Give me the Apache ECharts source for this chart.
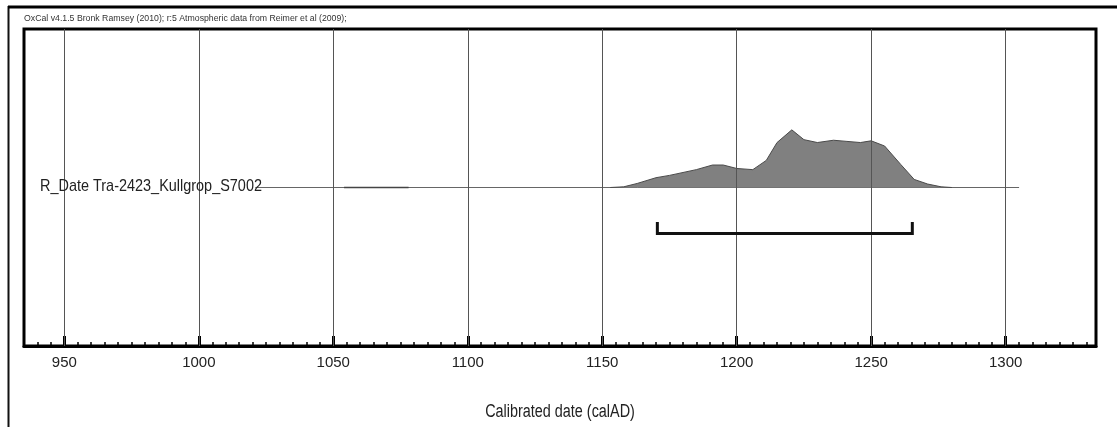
<!DOCTYPE html>
<html>
<head>
<meta charset="utf-8">
<script src="https://cdn.jsdelivr.net/npm/echarts@6/dist/echarts.min.js"></script>
<style>
  html, body { margin: 0; padding: 0; background: #fff; }
  #chart { width: 1117px; height: 427px; }
</style>
</head>
<body>
<div id="chart"></div>
<script>
// calibrated date (calAD) and relative probability (peak = 1)
const years = [1153, 1158, 1163, 1170, 1175, 1185, 1191, 1195, 1200, 1206, 1211, 1215, 1220.5,
  1225, 1230, 1236, 1241, 1246, 1250, 1255, 1261, 1266, 1271, 1276, 1280];
const density = [0, 0.012, 0.07, 0.17, 0.21, 0.31, 0.39, 0.39, 0.33, 0.31, 0.47, 0.78, 1,
  0.83, 0.78, 0.82, 0.8, 0.78, 0.81, 0.72, 0.4, 0.14, 0.06, 0.012, 0];
const baseRange = [1021, 1305];
const lowProbRange = [1054, 1078];
const range95 = [1170.5, 1265.3];
const majorTicks = [950, 1000, 1050, 1100, 1150, 1200, 1250, 1300];
const minorTicks = [];
for (let y = 940; y <= 1330; y += 5) {
  if (y % 50 !== 0) minorTicks.push(y);
}
const sampleName = "R_Date Tra-2423_Kullgrop_S7002";
const headerText = "OxCal v4.1.5 Bronk Ramsey (2010); r:5 Atmospheric data from Reimer et al (2009);";
const axisTitle = "Calibrated date (calAD)";

const font = "'Liberation Sans', Arial, sans-serif";

const chart = echarts.init(document.getElementById("chart"));
const option = {
  backgroundColor: "#fff",
  animation: false,
  grid: {
    left: 24,
    right: 21,
    top: 29,
    bottom: 81,
    show: true,
    borderColor: "#000",
    borderWidth: 3,
  },
  xAxis: [
    {
      type: "value",
      min: 935,
      max: 1333.6,
      axisLine: { show: true, onZero: false, lineStyle: { color: "#000", width: 3 } },
      axisTick: {
        show: true,
        inside: true,
        length: 10,
        customValues: majorTicks,
        lineStyle: { color: "#000", width: 3 },
      },
      axisLabel: {
        customValues: majorTicks,
        formatter: (v) => String(v),
        fontFamily: font,
        fontSize: 15,
        color: "#222",
        margin: 9,
      },
      splitLine: { show: false },
    },
    {
      type: "value",
      min: 935,
      max: 1333.6,
      position: "bottom",
      axisLine: { show: false, onZero: false },
      axisTick: {
        show: true,
        inside: true,
        length: 4,
        customValues: minorTicks,
        lineStyle: { color: "#000", width: 1.5 },
      },
      axisLabel: { show: false },
      splitLine: { show: false },
    },
  ],
  yAxis: {
    type: "value",
    min: -2.75,
    max: 2.75,
    show: false,
    splitLine: { show: false },
  },
  series: [
    {
      name: "baseline",
      type: "line",
      symbol: "none",
      data: [[baseRange[0], 0], [baseRange[1], 0]],
      lineStyle: { color: "#666", width: 1 },
      z: 2,
      markLine: {
        silent: true,
        symbol: "none",
        label: { show: false },
        lineStyle: { color: "#555", width: 1, type: "solid" },
        data: majorTicks.map((v) => ({ xAxis: v })),
      },
    },
    {
      name: "low",
      type: "line",
      symbol: "none",
      data: [[lowProbRange[0], 0], [lowProbRange[1], 0]],
      lineStyle: { color: "#444", width: 1.5 },
      z: 3,
    },
    {
      name: "prob",
      type: "line",
      symbol: "none",
      smooth: false,
      data: years.map((y, i) => [y, density[i]]),
      lineStyle: { color: "#4a4a4a", width: 1 },
      areaStyle: { color: "#808080", opacity: 1 },
      z: 4,
    },
    {
      name: "range",
      type: "line",
      symbol: "none",
      data: [
        [range95[0], -0.6],
        [range95[0], -0.8],
        [range95[1], -0.8],
        [range95[1], -0.6],
      ],
      lineStyle: { color: "#111", width: 3, join: "miter", cap: "butt" },
      z: 5,
    },
  ],
  graphic: [
    {
      type: "line",
      shape: { x1: 8.5, y1: 6, x2: 8.5, y2: 427 },
      style: { stroke: "#111", lineWidth: 2 },
    },
    {
      type: "line",
      shape: { x1: 8, y1: 7, x2: 1117, y2: 7 },
      style: { stroke: "#000", lineWidth: 3 },
    },
    {
      type: "text",
      x: 24,
      y: 14,
      scaleX: 0.97,
      style: {
        text: headerText,
        font: "9px " + font,
        fill: "#333",
      },
    },
    {
      type: "text",
      x: 40,
      y: 178,
      scaleX: 0.85,
      z: 10,
      style: {
        text: sampleName,
        font: "17px " + font,
        fill: "#222",
      },
    },
    {
      type: "text",
      x: 560,
      y: 412,
      scaleX: 0.8,
      style: {
        text: axisTitle,
        font: "18px " + font,
        fill: "#222",
        align: "center",
        verticalAlign: "middle",
      },
    },
  ],
};
chart.setOption(option);
</script>
</body>
</html>
